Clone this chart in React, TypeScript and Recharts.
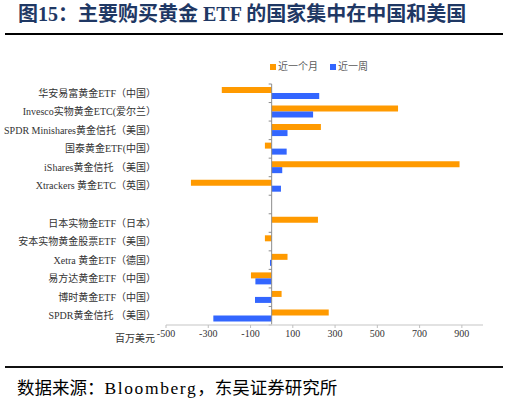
import React from 'react'
import { BarChart, Bar, XAxis, YAxis, ReferenceLine, Legend } from 'recharts'

const categories = [
  '华安易富黄金ETF（中国）',
  'Invesco实物黄金ETC(爱尔兰）',
  'SPDR Minishares黄金信托（美国）',
  '国泰黄金ETF(中国）',
  'iShares黄金信托 （美国）',
  'Xtrackers 黄金ETC（英国）',
  '',
  '日本实物金ETF（日本）',
  '安本实物黄金股票ETF（美国）',
  'Xetra 黄金ETF（德国）',
  '易方达黄金ETF（中国）',
  '博时黄金ETF（中国）',
  'SPDR黄金信托 （美国）',
]
// 百万美元
const lastMonth = [-236, 598, 233, -32, 889, -382, null, 219, -32, 75, -98, 47, 270]
const lastWeek = [225, 196, 75, 71, 50, 44, null, 0, 0, -8, -77, -79, -276]
const xTicks = [-500, -300, -100, 100, 300, 500, 700, 900]
const seriesNames = ['近一个月', '近一周']
const colors = ['#FF9A00', '#3366FF']

const serif = "'Liberation Serif', 'Noto Sans CJK SC', serif"

const data = categories.map((name, i) => ({
  name,
  month: lastMonth[i],
  week: lastWeek[i],
}))

// zero axis with small tick marks at category boundaries
const ZeroLine = (props: any) => {
  const { x1, y1, x2, y2 } = props
  const n = categories.length
  const step = (y2 - y1) / n
  return (
    <g>
      <line x1={x1} y1={y1} x2={x2} y2={y2} stroke="#8c8c8c" strokeWidth={1} />
      {Array.from({ length: n + 1 }, (_, i) => (
        <line key={i} x1={x1 - 3} x2={x1} y1={y1 + i * step} y2={y1 + i * step} stroke="#8c8c8c" strokeWidth={1} />
      ))}
    </g>
  )
}

// plain text so labels with spaces stay on one line
const CategoryTick = (props: any) => {
  const { x, y, payload } = props
  return (
    <text x={x} y={y} dy={3.5} textAnchor="end" fontSize={10} fill="#333" fontFamily={serif} style={{ whiteSpace: 'pre' }}>
      {payload.value}
    </text>
  )
}

const renderLegend = (props: any) => (
  <div style={{ display: 'flex', fontSize: 10, lineHeight: '13px', color: '#595959', fontFamily: serif }}>
    {(props.payload || []).map((p: any) => (
      <span key={p.value} style={{ display: 'flex', alignItems: 'center', marginRight: 12, whiteSpace: 'nowrap' }}>
        <span style={{ width: 6, height: 6, background: p.color, marginRight: 2, display: 'inline-block' }} />
        {p.value}
      </span>
    ))}
  </div>
)

export default function App() {
  return (
    <div style={{ position: 'absolute', left: 0, top: 0, width: 509, height: 403, background: '#fff', overflow: 'hidden' }}>
      <div style={{ position: 'absolute', left: 0, top: 0 }}>
        <BarChart
          width={509}
          height={403}
          data={data}
          layout="vertical"
          margin={{ top: 84, right: 26, bottom: 48, left: 0 }}
          barGap={0}
        >
          <XAxis
            type="number"
            domain={[-500, 1000]}
            ticks={xTicks}
            interval={0}
            axisLine={{ stroke: '#d9d9d9', strokeWidth: 1.5 }}
            tickLine={{ stroke: '#bfbfbf' }}
            tickSize={3}
            tick={{ fontSize: 10, fill: '#333', fontFamily: serif }}
            height={30}
          />
          <YAxis
            type="category"
            dataKey="name"
            width={166}
            interval={0}
            axisLine={false}
            tickLine={false}
            tickMargin={4}
            tick={<CategoryTick />}
          />
          <Legend
            layout="vertical"
            verticalAlign="middle"
            align="center"
            content={renderLegend}
            wrapperStyle={{ top: 60, left: 270, width: 'auto' }}
          />
          <Bar dataKey="month" name={seriesNames[0]} fill={colors[0]} barSize={6} isAnimationActive={false} />
          <Bar dataKey="week" name={seriesNames[1]} fill={colors[1]} barSize={6} isAnimationActive={false} />
          <ReferenceLine x={0} shape={ZeroLine} />
        </BarChart>
      </div>

      {/* title and source rules */}
      <svg width={509} height={403} style={{ position: 'absolute', left: 0, top: 0, zIndex: 5, pointerEvents: 'none' }}>
        <rect x={5} y={33} width={498} height={2} fill="#000" />
        <rect x={5} y={366} width={498} height={2} fill="#111" />
      </svg>

      <div style={{ position: 'absolute', left: 18, top: 4, fontSize: 20, lineHeight: '20px', fontWeight: 'bold', color: '#1f3864', fontFamily: serif, whiteSpace: 'nowrap', zIndex: 6 }}>
        图15：主要购买黄金 ETF 的国家集中在中国和美国
      </div>

      <div style={{ position: 'absolute', left: 115, top: 333, fontSize: 10, lineHeight: '12px', color: '#333', fontFamily: serif, zIndex: 6 }}>
        百万美元
      </div>

      <div style={{ position: 'absolute', left: 17, top: 378, fontSize: 17.5, lineHeight: '20px', color: '#000', fontFamily: serif, whiteSpace: 'nowrap', zIndex: 6 }}>
        数据来源：<span style={{ letterSpacing: 1.6 }}>Bloomberg</span>，东吴证券研究所
      </div>
    </div>
  )
}
